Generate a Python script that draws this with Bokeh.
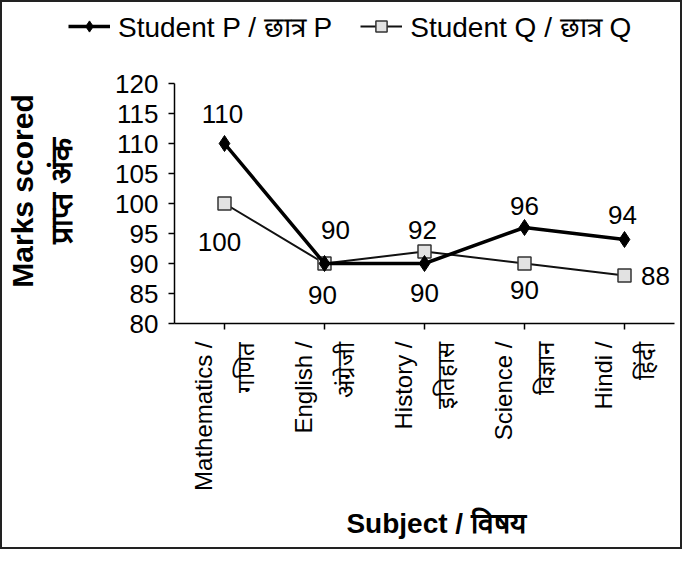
from math import pi
from bokeh.plotting import figure
from bokeh.core.properties import value
from bokeh.layouts import column
from bokeh.models import (ColumnDataSource, FactorRange, Range1d, FixedTicker,
                          LabelSet, Legend, LegendItem)
from bokeh.embed import file_html
from bokeh.resources import INLINE

# ---- data ----
subjects = ["Mathematics /\nगणित", "English /\nअंग्रेजी", "History /\nइतिहास",
            "Science /\nविज्ञान", "Hindi /\nहिंदी"]
student_p = [110, 90, 90, 96, 94]
student_q = [100, 90, 92, 90, 88]
y_ticks = [80, 85, 90, 95, 100, 105, 110, 115, 120]
series_names = ["Student P / छात्र P", "Student Q / छात्र Q"]

# label offsets (screen px) for data labels
p_dx = [-2, 11, 0, 0, -2]
p_dy = [30, 34, -29, 22, 25]
q_dx = [-5, -2, -2, 0, 31]
q_dy = [-38, -31, 22, -26, 0]

FONT = "Liberation Sans"
NB = "\u00a0"
W = 678
LEG_H = 48

P_LINE = dict(line_color="black", line_width=3.5)
P_MARK = dict(marker="diamond", size=16, fill_color="black", line_color="black")
Q_LINE = dict(line_color="#111111", line_width=2)
Q_MARK = dict(marker="square", size=13, fill_color="#e2e2e2", line_color="#333333", line_width=1.5)

# ---------- legend strip ----------
lf = figure(width=W, height=LEG_H, x_range=Range1d(0, 1), y_range=Range1d(0, 1),
            x_axis_type=None, y_axis_type=None, output_backend="svg", toolbar_location=None,
            min_border_left=66, min_border_right=0, min_border_top=0, min_border_bottom=0)
lf.frame_align = False
lf.outline_line_color = None
lf.xgrid.grid_line_color = None
lf.ygrid.grid_line_color = None
nan = float("nan")
dummy_p = ColumnDataSource(dict(x=[nan], y=[nan]))
dummy_q = ColumnDataSource(dict(x=[nan], y=[nan]))
llp = lf.line("x", "y", source=dummy_p, **P_LINE)
lmp = lf.scatter("x", "y", source=dummy_p, **P_MARK)
llq = lf.line("x", "y", source=dummy_q, **Q_LINE)
lmq = lf.scatter("x", "y", source=dummy_q, **Q_MARK)
legend = Legend(items=[LegendItem(label=series_names[0], renderers=[llp, lmp]),
                       LegendItem(label=series_names[1], renderers=[llq, lmq])],
                orientation="horizontal", location="left",
                label_text_font=FONT, label_text_font_size="28px", label_text_color="black",
                glyph_width=42, glyph_height=28, label_height=30, label_standoff=8, spacing=28,
                padding=0, margin=0, border_line_color=None, background_fill_alpha=0)
lf.add_layout(legend, "center")

# ---------- main chart ----------
p = figure(x_range=FactorRange(*subjects, range_padding=0), y_range=Range1d(80, 120),
           width=W, height=545 - LEG_H, output_backend="svg", toolbar_location=None,
           min_border_left=172, min_border_right=6, min_border_top=81 - LEG_H,
           min_border_bottom=224)
p.frame_align = False
p.outline_line_color = None
p.xgrid.grid_line_color = None
p.ygrid.grid_line_color = None

src_p = ColumnDataSource(dict(x=subjects, y=student_p, t=[str(v) for v in student_p], dx=p_dx, dy=p_dy))
src_q = ColumnDataSource(dict(x=subjects, y=student_q, t=[str(v) for v in student_q], dx=q_dx, dy=q_dy))

p.line("x", "y", source=src_q, **Q_LINE)
p.scatter("x", "y", source=src_q, **Q_MARK)
p.line("x", "y", source=src_p, **P_LINE)
p.scatter("x", "y", source=src_p, **P_MARK)

for src in (src_p, src_q):
    p.add_layout(LabelSet(x="x", y="y", text="t", source=src, x_offset="dx", y_offset="dy",
                          text_align="center", text_baseline="middle",
                          text_font=value(FONT), text_font_size="26px", text_color="black"))

p.yaxis.ticker = FixedTicker(ticks=y_ticks)
for ax in (p.xaxis[0], p.yaxis[0]):
    ax.axis_line_color = "black"
    ax.axis_line_width = 1.5
    ax.major_tick_line_color = "black"
    ax.major_tick_line_width = 1.5
    ax.major_tick_out = 6
    ax.major_tick_in = 0
    ax.minor_tick_line_color = None
    ax.major_label_text_font = FONT
    ax.major_label_text_color = "black"
    ax.axis_label_text_font = FONT
    ax.axis_label_text_font_style = "bold"
    ax.axis_label_text_color = "black"

p.yaxis.major_label_text_font_size = "26px"
p.yaxis.major_label_standoff = 10
p.yaxis.axis_label = NB * 3 + "Marks scored\n" + NB * 3 + "प्राप्त अंक"
p.yaxis.axis_label_text_font_size = "30px"
p.yaxis.axis_label_standoff = 34

p.xaxis.major_label_text_font_size = "24px"
p.xaxis.major_label_orientation = pi / 2
p.xaxis.major_label_standoff = 12
p.xaxis.major_label_text_line_height = 1.55
p.xaxis.axis_label = NB * 3 + "Subject / विषय"
p.xaxis.axis_label_text_font_size = "28px"
p.xaxis.axis_label_standoff = 14

layout = column(lf, p, spacing=0, styles={"border": "2px solid #222", "background": "white"})

open("out.html", "w").write(file_html(layout, INLINE))
